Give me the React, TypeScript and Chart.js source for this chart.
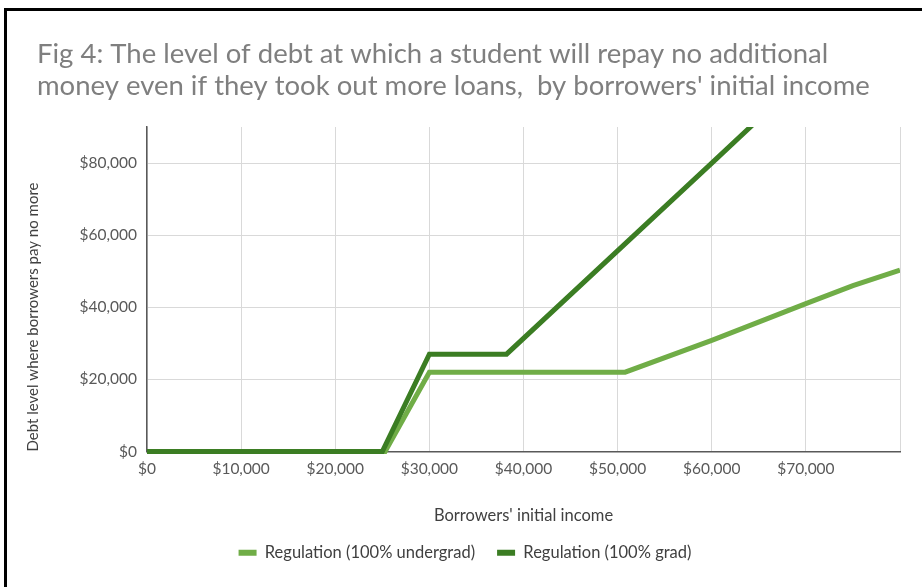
import React, { useEffect, useRef } from "react";
import { Chart, registerables } from "chart.js";

Chart.register(...registerables);

const titleLines = [
  "Fig 4: The level of debt at which a student will repay no additional",
  "money even if they took out more loans,  by borrowers' initial income",
];
const xAxisTitle = "Borrowers' initial income";
const yAxisTitle = "Debt level where borrowers pay no more";

const seriesNames = ["Regulation (100% undergrad)", "Regulation (100% grad)"];

const incomeUndergrad = [0, 25300, 30000, 50800, 60000, 70000, 75000, 80000];
const debtUndergrad = [0, 0, 22000, 22000, 30800, 41000, 46000, 50300];

const incomeGrad = [0, 25000, 30000, 38200, 60000, 65000];
const debtGrad = [0, 0, 27000, 27000, 80000, 92200];

const FONT = "Lato";

const titlePlugin = {
  id: "figTitle",
  afterLayout(chart: any) {
    const lg = chart.legend;
    if (lg) {
      const w = lg.right - lg.left;
      const center = 458;
      lg.left = center - w / 2;
      lg.right = lg.left + w;
      lg.top -= 12;
      lg.bottom -= 12;
    }
  },
  afterDraw(chart: any) {
    const ctx = chart.ctx;
    ctx.save();
    ctx.font = `27.5px ${FONT}`;
    ctx.fillStyle = "#7f7f7f";
    ctx.textAlign = "left";
    ctx.textBaseline = "alphabetic";
    ctx.fillText(titleLines[0], 30, 52);
    ctx.fillText(titleLines[1], 30, 84);
    ctx.restore();
  },
};

export default function App() {
  const ref = useRef<HTMLCanvasElement>(null);

  useEffect(() => {
    if (!ref.current) return;
    const toPts = (xs: number[], ys: number[]) => xs.map((x, i) => ({ x, y: ys[i] }));
    const chart = new Chart(ref.current, {
      type: "line",
      data: {
        datasets: [
          {
            label: seriesNames[0],
            data: toPts(incomeUndergrad, debtUndergrad),
            borderColor: "#70ad47",
            backgroundColor: "#70ad47",
            borderWidth: 5,
            pointRadius: 0,
            tension: 0,
            order: 1,
            clip: { left: 0, top: 0, right: 0, bottom: 4 } as any,
          },
          {
            label: seriesNames[1],
            data: toPts(incomeGrad, debtGrad),
            borderColor: "#3b7d23",
            backgroundColor: "#3b7d23",
            borderWidth: 5,
            pointRadius: 0,
            tension: 0,
            order: 0,
            clip: { left: 0, top: 0, right: 0, bottom: 4 } as any,
          },
        ],
      },
      options: {
        animation: false,
        responsive: false,
        layout: { padding: { left: 12, right: 22, top: 116, bottom: 4 } },
        plugins: {
          title: { display: false },
          tooltip: { enabled: false },
          legend: {
            position: "bottom",
            labels: {
              boxWidth: 18,
              boxHeight: 6,
              padding: 22,
              color: "#404040",
              font: { family: FONT, size: 16.5 },
              sort: (a: any, b: any) => a.datasetIndex - b.datasetIndex,
              generateLabels: (c: any) =>
                (Chart as any).defaults.plugins.legend.labels
                  .generateLabels(c)
                  .map((it: any) => ({ ...it, lineWidth: 0 })),
            },
          },
        },
        scales: {
          x: {
            type: "linear",
            min: 0,
            max: 80000,
            ticks: {
              stepSize: 10000,
              color: "#595959",
              font: { family: FONT, size: 15.5 },
              padding: 8,
              maxRotation: 0,
              callback: (v: any) => (v >= 80000 ? "" : "$" + Number(v).toLocaleString("en-US")),
            },
            grid: { color: "#d9d9d9", lineWidth: 1, drawTicks: false },
            border: { color: "#595959", width: 1.5 },
            title: {
              display: true,
              text: xAxisTitle,
              color: "#404040",
              font: { family: FONT, size: 16.5 },
              padding: { top: 4, bottom: 9 },
            },
            afterFit: (s: any) => {
              s.height = 83;
            },
          },
          y: {
            type: "linear",
            min: 0,
            max: 90000,
            afterBuildTicks: (s: any) => {
              s.ticks = s.ticks.filter((t: any) => t.value % 20000 === 0);
            },
            ticks: {
              stepSize: 10000,
              color: "#595959",
              font: { family: FONT, size: 15.5 },
              padding: 10,
              callback: (v: any) => "$" + Number(v).toLocaleString("en-US"),
            },
            grid: { color: "#d9d9d9", lineWidth: 1, drawTicks: false },
            border: { color: "#595959", width: 1.5 },
            title: {
              display: true,
              text: yAxisTitle,
              align: "start",
              color: "#404040",
              font: { family: FONT, size: 15 },
              padding: { top: 5, bottom: 4 },
            },
            afterFit: (s: any) => {
              s.width = 128;
            },
          },
        },
      },
      plugins: [titlePlugin],
    });
    return () => chart.destroy();
  }, []);

  return (
    <div
      style={{
        position: "fixed",
        left: 4,
        top: 8,
        width: 930,
        height: 600,
        border: "3px solid #000",
        background: "#fff",
        overflow: "hidden",
      }}
    >
      <canvas ref={ref} width={915} height={576} style={{ display: "block" }} />
    </div>
  );
}
